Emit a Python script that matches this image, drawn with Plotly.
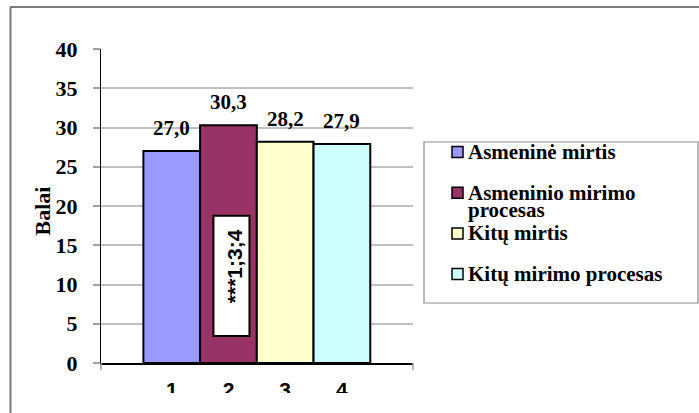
import textwrap
import plotly.graph_objects as go

# Vidutiniai balai pagal skalę
series_names = ["Asmeninė mirtis", "Asmeninio mirimo procesas", "Kitų mirtis", "Kitų mirimo procesas"]
series_values = [27.0, 30.3, 28.2, 27.9]
category_labels = ["1", "2", "3", "4"]
bar_colors = ["#9999FF", "#993366", "#FFFFCC", "#CCFFFF"]
significance_note = "***1;3;4"
y_title = "Balai"

W, H = 699, 413
PX_L, PX_R, PX_T, PX_B = 101, 413, 49, 363

SERIF = "Liberation Serif, Times New Roman, serif"
SANS = "Liberation Sans, Arial, sans-serif"


def px_x(px):
    return (px - PX_L) / (PX_R - PX_L)


def px_y(py):
    return (PX_B - py) / (PX_B - PX_T)


def fmt(v):
    return f"{v:.1f}".replace(".", ",")


fig = go.Figure()
positions = list(range(1, len(series_values) + 1))
for pos, name, val, col in zip(positions, series_names, series_values, bar_colors):
    fig.add_trace(go.Bar(
        x=[pos], y=[val], name=name, width=1,
        marker=dict(color=col, line=dict(color="black", width=2)),
        showlegend=False,
        hovertemplate=f"{name}: %{{y}}<extra></extra>",
    ))
    fig.add_annotation(
        x=pos, y=val, text=fmt(val), showarrow=False,
        yanchor="bottom", yshift=9,
        font=dict(family=SERIF, size=21, color="black", weight="bold"),
    )

shapes = []

# boundary tick marks on the category axis
for xp in (0, 1):
    shapes.append(dict(type="line", xref="paper", yref="paper",
                       x0=xp, x1=xp, y0=0, y1=px_y(PX_B + 7),
                       line=dict(color="#A0A0A0", width=1.5)))

# box holding the significance note inside bar 2
shapes.append(dict(type="rect", xref="x", yref="y",
                   x0=1.735, x1=2.37, y0=3.45, y1=18.75,
                   fillcolor="white", line=dict(color="black", width=2),
                   layer="above"))
fig.add_annotation(
    x=2.11, y=12.3, text=significance_note, showarrow=False, textangle=-90,
    font=dict(family=SANS, size=21, color="black", weight="bold"),
)

# axis title
fig.add_annotation(
    xref="paper", yref="paper", x=px_x(41.5), y=px_y(211),
    text=y_title, showarrow=False, textangle=-90,
    xanchor="center", yanchor="middle",
    font=dict(family=SERIF, size=22, color="black", weight="bold"),
)

# legend drawn from the series lists
LEG_X0, LEG_X1, LEG_Y0, LEG_Y1 = 424, 698, 142, 303
shapes.append(dict(type="rect", xref="paper", yref="paper",
                   x0=px_x(LEG_X0), x1=px_x(LEG_X1), y0=px_y(LEG_Y1), y1=px_y(LEG_Y0),
                   fillcolor="white", line=dict(color="#8C8C8C", width=1.2),
                   layer="above"))
row_y0, row_step, line_step = 152, 40.7, 17.5
for i, (name, col) in enumerate(zip(series_names, bar_colors)):
    cy = row_y0 + i * row_step
    shapes.append(dict(type="rect", xref="paper", yref="paper",
                       x0=px_x(452), x1=px_x(463), y0=px_y(cy + 5.5), y1=px_y(cy - 5.5),
                       fillcolor=col, line=dict(color="black", width=1.5),
                       layer="above"))
    for j, line in enumerate(textwrap.wrap(name, width=20)):
        fig.add_annotation(
            xref="paper", yref="paper", x=px_x(466), y=px_y(cy + j * line_step),
            text=line, showarrow=False, xanchor="left", yanchor="middle",
            font=dict(family=SERIF, size=21, color="black", weight="bold"),
        )

# chart frame, trimmed at the bottom
shapes.append(dict(type="rect", xref="paper", yref="paper",
                   x0=px_x(12), x1=px_x(W + 5), y0=px_y(H + 5), y1=px_y(393),
                   fillcolor="white", line=dict(width=0), layer="above"))
shapes.append(dict(type="line", xref="paper", yref="paper",
                   x0=px_x(10), x1=px_x(W + 5), y0=px_y(7), y1=px_y(7),
                   line=dict(color="#7A7A7A", width=2), layer="above"))
shapes.append(dict(type="line", xref="paper", yref="paper",
                   x0=px_x(10.5), x1=px_x(10.5), y0=px_y(7), y1=px_y(H + 5),
                   line=dict(color="#7A7A7A", width=2), layer="above"))

fig.update_layout(
    width=W, height=H, autosize=False,
    margin=dict(l=PX_L, r=W - PX_R, t=PX_T, b=H - PX_B, pad=0),
    paper_bgcolor="white", plot_bgcolor="white",
    barmode="overlay", showlegend=False,
    shapes=shapes,
    xaxis=dict(
        range=[-0.247, 5.253], tickmode="array", tickvals=positions,
        ticktext=category_labels, ticks="", showgrid=False, zeroline=False,
        showline=True, linecolor="black", linewidth=1.5,
        tickfont=dict(family=SANS, size=21, color="black", weight="bold"),
        ticklabelstandoff=7, fixedrange=True,
    ),
    yaxis=dict(
        range=[0, 40], dtick=5, tick0=0,
        showgrid=True, gridcolor="#C0C0C0", gridwidth=1.5,
        zeroline=False, showline=True, linecolor="black", linewidth=1,
        ticks="outside", ticklen=7, tickcolor="#A0A0A0", tickwidth=1.5,
        tickfont=dict(family=SERIF, size=22, color="black", weight="bold"),
        ticklabelstandoff=11, fixedrange=True,
    ),
)

fig.write_html("out.html")
